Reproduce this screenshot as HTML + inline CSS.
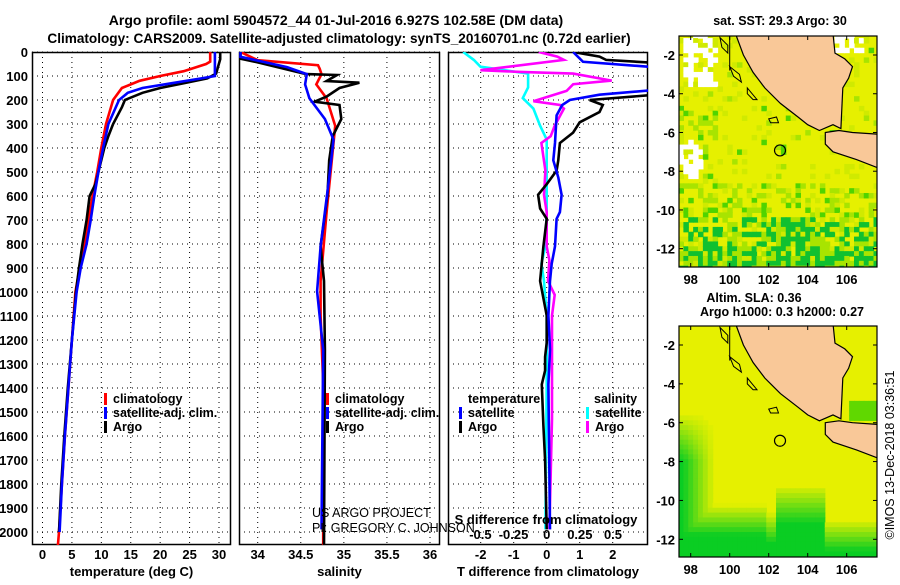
<!DOCTYPE html>
<html><head><meta charset="utf-8"><style>
body{margin:0;background:#fff;width:900px;height:580px;overflow:hidden;font-family:"Liberation Sans",sans-serif}
svg text{font-family:"Liberation Sans",sans-serif}
</style></head><body>
<svg id="fig" width="900" height="580" xmlns="http://www.w3.org/2000/svg">
<text x="336" y="25" font-size="14" font-weight="bold" text-anchor="middle">Argo profile: aoml 5904572_44 01-Jul-2016 6.927S 102.58E (DM data)</text>
<text x="339" y="43" font-size="13.6" font-weight="bold" text-anchor="middle">Climatology: CARS2009. Satellite-adjusted climatology: synTS_20160701.nc (0.72d earlier)</text>
</svg>
<script>
// ---- data ----
const depthTicks=[0,100,200,300,400,500,600,700,800,900,1000,1100,1200,1300,1400,1500,1600,1700,1800,1900,2000];
const tempTicks=[0,5,10,15,20,25,30];
const salTicks=[34,34.5,35,35.5,36];
const tdTicks=[-2,-1,0,1,2];
const sdTicks=[-0.5,-0.25,0,0.25,0.5];
const tempClimDepth=[0,40,50,80,100,120,150,200,300,400,500,600,700,800,900,1000,1200,1400,1600,1800,2000,2060];
const tempClimVal=[28.5,28.5,27.8,24,20,16.5,13.5,12,10.8,10,9.3,8.5,7.8,7.2,6.3,5.6,5.0,4.4,3.8,3.3,2.8,2.6];
const tempSatDepth=[0,100,110,130,150,170,200,300,400,500,600,700,800,900,1000,1200,1400,1600,1800,2000];
const tempSatVal=[29.3,29.3,27,22,17,14.5,13,11.2,10.3,9.5,8.8,8.2,7.5,6.5,5.8,5,4.4,3.8,3.3,2.9];
const tempArgoDepth=[0,30,90,110,130,150,170,200,230,300,350,400,500,550,600,700,800,900,1000,1200,1400,1600,1800,2000];
const tempArgoVal=[30.2,30.2,29.5,28,24,20,17,14,13.5,12,11.2,10.5,9.5,9,8,7.5,6.8,6.2,5.7,5,4.3,3.7,3.2,2.8];
const salClimDepth=[0,34,55,70,92,135,193,308,451,667,954,1098,1385,2060];
const salClimVal=[33.8,34.0,34.7,34.72,34.74,34.68,34.80,34.90,34.86,34.80,34.73,34.73,34.76,34.76];
const salSatDepth=[0,20,63,92,135,193,279,365,523,810,997,1241,1989];
const salSatVal=[33.8,33.8,34.34,34.57,34.55,34.6,34.78,34.88,34.83,34.73,34.69,34.76,34.74];
const salArgoDepth=[0,28,43,92,96,121,128,150,186,207,221,279,351,451,595,810,954,1241,2060];
const salArgoVal=[33.8,33.8,34.0,34.56,34.92,34.8,35.18,34.95,34.8,34.66,34.95,34.97,34.87,34.83,34.81,34.73,34.77,34.78,34.77];
const tdDepth=[0,41,66,156,178,200,221,264,379,451,523,595,667,695,810,882,954,1098,1241,1385,1989];
const tdSat=[0.8,1.1,3.5,3.5,1.6,0.7,0.47,0.3,0.25,0.2,0.35,0.45,0.4,0.3,0.25,0.15,0.1,0.05,0.1,0.05,0.1];
const tdArgoDepth=[0,19,33,47,176,200,221,250,293,336,379,451,494,551,595,652,695,810,954,1098,1212,1270,1327,1385,1557,1700,1989];
const tdArgo=[0.8,1.6,1.8,3.5,3.5,1.3,1.7,1.6,1.0,0.8,0.4,0.35,0.3,0,-0.26,-0.2,0,-0.1,-0.2,0,0,-0.05,-0.05,-0.15,-0.1,-0.05,0];
const sdDepth=[0,33,61,90,148,192,236,307,365,523,667,810,882,954,1098,1241,1385,1989];
const sdSat=[-0.63,-0.55,-0.5,-0.14,-0.14,-0.18,-0.1,-0.05,0,0,0,-0.01,-0.04,-0.02,0,0,0,-0.01];
const sdArgoDepth=[0,19,33,76,83,90,119,134,162,205,221,236,307,351,379,494,595,667,810,868,954,1012,1098,1241,1385,1529,1989];
const sdArgo=[-0.06,0.08,0.13,-0.5,-0.2,0.2,0.49,0.2,0.15,-0.1,0.1,0.13,0.06,0.03,-0.04,-0.01,-0.02,0,0,0.02,0.01,0.06,0.04,0.04,0.04,0.04,0.02];
const mapLonTicks=[98,100,102,104,106];
const mapLatTicks=[-2,-4,-6,-8,-10,-12];
const argoLon=102.58, argoLat=-6.927;

// ---- helpers ----
const NS='http://www.w3.org/2000/svg';
const svg=document.getElementById('fig');
function mk(tag,attrs,parent){const e=document.createElementNS(NS,tag);for(const k in attrs)e.setAttribute(k,attrs[k]);(parent||svg).appendChild(e);return e;}
const Y0=52,Y1=545;
const yD=d=>Y0+d*0.24;
function lin(d0,d1,r0,r1){return v=>r0+(v-d0)*(r1-r0)/(d1-d0);}

function panel(name,x0,x1,xs,xt,xLabels,title){
  const g=mk('g',{});
  
  
  const cp=mk('clipPath',{id:'cp-'+name},g);
  mk('rect',{x:x0,y:Y0,width:x1-x0,height:Y1-Y0},cp);
  depthTicks.forEach(d=>{
    const l=mk('line',{x1:x0,x2:x1,y1:yD(d),y2:yD(d),stroke:'#000','stroke-width':1,'stroke-dasharray':'1,4'},g);
    
    
  });
  xt.forEach((v,i)=>{
    const l=mk('line',{x1:xs(v),x2:xs(v),y1:Y0,y2:Y1,stroke:'#000','stroke-width':1,'stroke-dasharray':'1,4'},g);
    
    
    if(xLabels){
      const t=mk('text',{x:xs(v),y:559,'font-size':13,'font-weight':'bold','text-anchor':'middle'},g);
      t.textContent=xLabels[i];
      
      
    }
  });
  const fr=mk('rect',{x:x0+0.5,y:Y0+0.5,width:x1-x0-1,height:Y1-Y0-1,fill:'none',stroke:'#000','stroke-width':1.5},g);
  
  
  const tt=mk('text',{x:(x0+x1)/2,y:576,'font-size':13,'font-weight':'bold','text-anchor':'middle'},g);
  tt.textContent=title;
  
  
  return g;
}
function series(g,name,depths,vals,xs,color,clip){
  const pts=depths.map((d,i)=>xs(vals[i]).toFixed(1)+','+yD(d).toFixed(1)).join(' ');
  const p=mk('polyline',{points:pts,fill:'none',stroke:color,'stroke-width':2.6,'stroke-linejoin':'miter','clip-path':'url(#'+clip+')'},g);
  
  
}
function legend(g,x,y,color,label){
  const r=mk('rect',{x:x,y:y-10,width:3,height:12,fill:color},g);
  
  
  const t=mk('text',{x:x+9,y:y,'font-size':12.5,'font-weight':'bold'},g);
  t.textContent=label;
  
  
}

// depth tick labels
depthTicks.forEach(d=>{
  const t=mk('text',{x:28,y:yD(d)+5,'font-size':13,'font-weight':'bold','text-anchor':'end'});
  t.textContent=d;
  
  
});

// panel 1 temperature
const xT=lin(0,30,42.5,219);
const g1=panel('temperature-panel',32,231,xT,tempTicks,tempTicks.map(String),'temperature (deg C)');
series(g1,'temperature-climatology',tempClimDepth,tempClimVal,xT,'#f00','cp-temperature-panel');
series(g1,'temperature-argo',tempArgoDepth,tempArgoVal,xT,'#000','cp-temperature-panel');
series(g1,'temperature-satellite',tempSatDepth,tempSatVal,xT,'#00f','cp-temperature-panel');
legend(g1,104,403,'#f00','climatology');
legend(g1,104,417,'#00f','satellite-adj. clim.');
legend(g1,104,431,'#000','Argo');

// panel 2 salinity
const xS=lin(34,36,257.7,430);
const g2=panel('salinity-panel',239,440,xS,salTicks,salTicks.map(String),'salinity');
series(g2,'salinity-climatology',salClimDepth,salClimVal,xS,'#f00','cp-salinity-panel');
series(g2,'salinity-argo',salArgoDepth,salArgoVal,xS,'#000','cp-salinity-panel');
series(g2,'salinity-satellite',salSatDepth,salSatVal,xS,'#00f','cp-salinity-panel');
legend(g2,326,403,'#f00','climatology');
legend(g2,326,417,'#00f','satellite-adj. clim.');
legend(g2,326,431,'#000','Argo');
[['US ARGO PROJECT',517],['PI: GREGORY C. JOHNSON',532]].forEach(a=>{
  const t=mk('text',{x:312,y:a[1],'font-size':12.5},g2);
  t.textContent=a[0];
  
  
});

// panel 3 differences
const xTD=lin(0,1,546.7,579.7);
const xSD=lin(0,0.5,546.7,613);
const g3=panel('difference-panel',448,648,xTD,tdTicks,tdTicks.map(String),'T difference from climatology');
series(g3,'s-diff-satellite',sdDepth,sdSat,xSD,'#0ff','cp-difference-panel');
series(g3,'s-diff-argo',sdArgoDepth,sdArgo,xSD,'#f0f','cp-difference-panel');
series(g3,'t-diff-argo',tdArgoDepth,tdArgo,xTD,'#000','cp-difference-panel');
series(g3,'t-diff-satellite',tdDepth,tdSat,xTD,'#00f','cp-difference-panel');
sdTicks.forEach((v,i)=>{
  const t=mk('text',{x:xSD(v),y:539,'font-size':13,'font-weight':'bold','text-anchor':'middle'},g3);
  t.textContent=['-0.5','-0.25','0','0.25','0.5'][i];
  
  
});
{const t=mk('text',{x:546,y:524,'font-size':13,'font-weight':'bold','text-anchor':'middle'},g3);
t.textContent='S difference from climatology';

}
{const t=mk('text',{x:468,y:403,'font-size':12.5,'font-weight':'bold'},g3);t.textContent='temperature';
}
{const t=mk('text',{x:594,y:403,'font-size':12.5,'font-weight':'bold'},g3);t.textContent='salinity';
}
legend(g3,459,417,'#00f','satellite');
legend(g3,459,431,'#000','Argo');
legend(g3,586,417,'#0ff','satellite');
legend(g3,586,431,'#f0f','Argo');

// ---- maps ----
const sumatra=[[100.3,-0.9],[105.3,-0.9],[105.4,-1.9],[105.9,-2.2],[106.3,-2.6],[106.1,-3.2],[105.8,-3.7],[105.7,-5.8],[105.3,-5.6],[104.6,-5.9],[104.0,-5.6],[103.5,-5.2],[102.6,-4.5],[101.8,-3.7],[101.2,-2.9],[100.7,-2.0],[100.3,-0.9]];
const java=[[104.9,-6.0],[105.6,-5.9],[106.3,-6.0],[107.8,-6.1],[107.8,-7.9],[106.5,-7.4],[105.3,-7.0],[104.9,-6.6]];
const islands=[[[99.5,-1.1],[99.9,-1.5],[99.9,-1.9],[99.6,-1.6]],[[100.0,-2.6],[100.5,-3.0],[100.6,-3.4],[100.2,-3.1]],[[100.9,-3.7],[101.4,-4.3],[101.2,-4.3],[100.9,-4.0]],[[102.0,-5.3],[102.4,-5.2],[102.5,-5.5],[102.1,-5.5]]];
function hash(i,j,s){let h=(i*374761393+j*668265263+s*982451653)|0;h=(h^(h>>>13))*1274126177|0;return ((h^(h>>>16))>>>0)/4294967296;}
function clamp(v){return Math.max(0,Math.min(1,v));}
function mapPanel(name,y0,y1,latM2,latM12,kind){
  const X0=679,X1=877;
  const xl=lin(98,106,690.7,846.7), yl=lin(-2,-12,latM2,latM12);
  const g=mk('g',{});
  
  
  const cp=mk('clipPath',{id:'cp-'+name},g);
  mk('rect',{x:X0,y:y0,width:X1-X0,height:y1-y0},cp);
  const inner=mk('g',{'clip-path':'url(#cp-'+name+')'},g);
  mk('rect',{x:X0,y:y0,width:X1-X0,height:y1-y0,fill:'#e6f000'},inner);
  const step=0.25;
  for(let lon=97.25;lon<107.75;lon+=step){for(let lat=-0.75;lat>-13.25;lat-=step){
    const i=Math.round(lon*4),j=Math.round(-lat*4);let c=null;const r=hash(i,j,kind);
    if(kind===1){
      let pg=0.04;
      if(lat<-8.6)pg=0.3; if(lat<-10.3)pg=0.55; if(lat<-10.3&&lon>102&&lon<105)pg=0.85;
      if(lat<-11.8)pg=0.85;
      if(lon<99.5&&lat<-4.5&&lat>-8.5)pg=0.22;
      if(r<pg){const r2=hash(j,i,7);c=(lat<-10.3&&r2<0.6)?'#10c030':(r2<0.4?'#50d400':'#a8e400');}
      else if(r>0.9)c='#d0ea00';
      if((lon<99.3&&lat>-3.6&&lon>97.6&&r<0.55)||(lon<98.6&&lat<-6.4&&lat>-8.3&&r<0.55)||(lon>105.3&&lon<107.2&&lat>-1.9&&r<0.6))c='#fff';
    } else {
      let b;
      if(lon<101.8) b=(-lat-10.2)/1.6; else if(lon<102.5) b=(-lat-10.6)/1.6;
      else if(lon<104.8) b=(-lat-9.2)/2.0; else b=(-lat-11.0)/1.6;
      const l=lon<99.2?clamp((99.2-lon)/1.6)*clamp((-lat-5.5)/2.5):0;
      const t=clamp(Math.max(b,l));
      if(lon>106&&lat<-4.9&&lat>-6)c='#60d800';
      else if(t>0.03){c='rgb('+Math.round(230*(1-t)+10*t)+','+Math.round(240-35*t)+','+Math.round(35*t)+')';}
    }
    if(c){mk('rect',{x:xl(lon-step/2),y:yl(lat+step/2),width:xl(step)-xl(0)+0.6,height:yl(lat-step)-yl(lat)+0.6,fill:c},inner);}
  }}
  const toPts=poly=>poly.map(p=>xl(p[0]).toFixed(1)+','+yl(p[1]).toFixed(1)).join(' ');
  [sumatra,java].forEach(poly=>{
    const p=mk('polygon',{points:toPts(poly),fill:'#f9c898',stroke:'#000','stroke-width':1.2},inner);
    
    
  });
  islands.forEach(poly=>{
    const p=mk('polygon',{points:toPts(poly),fill:'none',stroke:'#000','stroke-width':1},inner);
    
    
  });
  mk('line',{x1:xl(100),x2:xl(100),y1:y0,y2:yl(-2.8),stroke:'#000','stroke-width':1},inner);
  const c=mk('circle',{cx:xl(argoLon),cy:yl(argoLat),r:5.5,fill:'none',stroke:'#000','stroke-width':1.2},inner);
  
  
  const fr=mk('rect',{x:X0,y:y0,width:X1-X0,height:y1-y0,fill:'none',stroke:'#000','stroke-width':1.2},g);
  
  
  mapLonTicks.forEach(v=>{
    mk('line',{x1:xl(v),x2:xl(v),y1:y0,y2:y0+4,stroke:'#000'},g);
    mk('line',{x1:xl(v),x2:xl(v),y1:y1,y2:y1-4,stroke:'#000'},g);
    const t=mk('text',{x:xl(v),y:y1+17,'font-size':13,'font-weight':'bold','text-anchor':'middle'},g);
    t.textContent=v;
    
    
  });
  mapLatTicks.forEach(v=>{
    mk('line',{x1:X0,x2:X0+4,y1:yl(v),y2:yl(v),stroke:'#000'},g);
    mk('line',{x1:X1,x2:X1-4,y1:yl(v),y2:yl(v),stroke:'#000'},g);
    const t=mk('text',{x:675,y:yl(v)+5,'font-size':13,'font-weight':'bold','text-anchor':'end'},g);
    t.textContent=v;
    
    
  });
  return g;
}
mapPanel('sst-map',36,267,55,248.7,1);
mapPanel('sla-map',326,557,345,539.3,2);
[['sat. SST: 29.3 Argo: 30',780,25,'sst-map-title'],['Altim. SLA: 0.36',754,302,'sla-map-title-1'],['Argo h1000: 0.3 h2000: 0.27',782,316,'sla-map-title-2']].forEach(a=>{
  const t=mk('text',{x:a[1],y:a[2],'font-size':12.5,'font-weight':'bold','text-anchor':'middle'});
  t.textContent=a[0];
  
  
});
{const t=mk('text',{x:0,y:0,'font-size':12.5,'text-anchor':'middle',transform:'translate(894,455) rotate(-90)'});
t.textContent='©IMOS 13-Dec-2018 03:36:51';

}
</script>
</body></html>
